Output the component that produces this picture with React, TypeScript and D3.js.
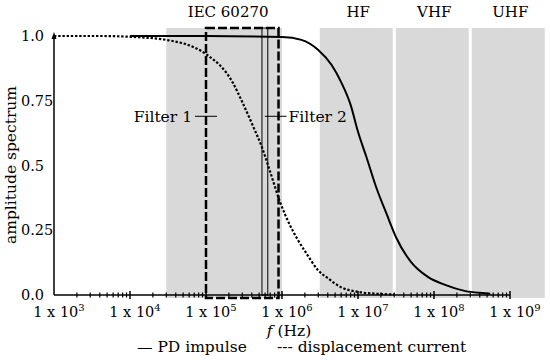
import React from 'react';
import * as d3 from 'd3';

// ---- data ----
const freqTicks = [1e3, 1e4, 1e5, 1e6, 1e7, 1e8, 1e9];
const tickExponents = ['3', '4', '5', '6', '7', '8', '9'];
const yTicks = [0, 0.25, 0.5, 0.75, 1.0];
const yTickLabels = ['0.0', '0.25', '0.5', '0.75', '1.0'];

// PD impulse spectrum (solid)
const pdFreq = [1e4, 1e5, 1e6, 1.8e6, 3e6, 4.5e6, 6e6, 8e6, 1e7, 1.3e7, 1.75e7, 2.4e7, 3.2e7, 5e7, 8.3e7, 1.4e8, 2.6e8, 4.7e8, 5.5e8];
const pdAmp = [1.0, 1.0, 0.996, 0.985, 0.946, 0.888, 0.822, 0.734, 0.63, 0.53, 0.413, 0.31, 0.22, 0.127, 0.07, 0.039, 0.015, 0.007, 0.005];

// displacement current spectrum (dotted)
const dispFreq = [1e3, 4e3, 1e4, 3e4, 1e5, 2.25e5, 3e5, 4.1e5, 5.5e5, 7e5, 9.4e5, 1.27e6, 1.6e6, 2.1e6, 3e6, 4e6, 6e6, 1e7, 2e7, 3e7];
const dispAmp = [1.0, 1.0, 0.997, 0.985, 0.93, 0.82, 0.745, 0.656, 0.567, 0.475, 0.36, 0.27, 0.215, 0.16, 0.095, 0.065, 0.03, 0.012, 0.004, 0.002];

const bandNames = ['HF', 'VHF', 'UHF'];
const bandStart = [3e6, 3e7, 3e8];
const bandEnd = [3e7, 3e8, 3e9];
const iecBand = [3e4, 1e6];
const iecLabel = 'IEC 60270';
const filter1 = [1e5, 9e5];
const filter2 = [5.45e5, 6.5e5];
const filterMarkerLevel = 0.69;

const FONT = '"DejaVu Serif", serif';
const FS = 15.5;

export default function App() {
  const W = 550, H = 360;
  const x = d3.scaleLog().domain([1e3, 1e9]).range([54, 510]);
  const y = d3.scaleLinear().domain([0, 1]).range([295, 36]);
  const bandTop = 28, bandBottom = 298;

  const line = d3.line<[number, number]>()
    .x(d => x(d[0]))
    .y(d => y(d[1]))
    .curve(d3.curveMonotoneX);

  const pdPath = line(pdFreq.map((f, i) => [f, pdAmp[i]] as [number, number])) || '';
  const dispPath = line(dispFreq.map((f, i) => [f, dispAmp[i]] as [number, number])) || '';

  const minor: number[] = [];
  for (let e = 3; e < 9; e++) {
    for (let k = 2; k <= 9; k++) minor.push(k * Math.pow(10, e));
  }

  const fy = y(filterMarkerLevel);
  const f1l = x(filter1[0]), f1r = x(filter1[1]);
  const f2l = x(filter2[0]), f2r = x(filter2[1]);

  return (
    <svg width={W} height={H} style={{ position: 'absolute', left: 0, top: 0, background: '#fff' }}
      fontFamily={FONT}>
      {/* gray bands */}
      <rect x={x(iecBand[0])} y={bandTop} width={x(iecBand[1]) - x(iecBand[0])} height={bandBottom - bandTop} fill="#d9d9d9" />
      {bandNames.map((n, i) => (
        <rect key={n} x={x(bandStart[i]) + 1.5} y={bandTop} width={x(bandEnd[i]) - x(bandStart[i]) - 3}
          height={bandBottom - bandTop} fill="#d9d9d9" />
      ))}

      {/* filter 2 thin box */}
      <rect x={f2l} y={bandTop} width={f2r - f2l} height={y(0) - bandTop} fill="none" stroke="#000" strokeWidth={1} />
      {/* filter 1 dashed box */}
      <rect x={f1l} y={bandTop} width={f1r - f1l} height={bandBottom - bandTop} fill="none" stroke="#000"
        strokeWidth={2.5} strokeDasharray="9,3" />

      {/* curves */}
      <path d={dispPath} fill="none" stroke="#000" strokeWidth={2.2} strokeDasharray="2.4,1.8" />
      <path d={pdPath} fill="none" stroke="#000" strokeWidth={2} />

      {/* filter markers */}
      <line x1={f1l - 11} x2={f1l + 11} y1={fy} y2={fy} stroke="#000" strokeWidth={1} />
      <line x1={(f2l + f2r) / 2} x2={f1r + 8} y1={fy} y2={fy} stroke="#000" strokeWidth={1} />
      <text x={f1l - 14} y={fy + 6} fontSize={FS} textAnchor="end">Filter 1</text>
      <text x={f1r + 10} y={fy + 6} fontSize={FS} textAnchor="start">Filter 2</text>

      {/* band labels */}
      <text x={(x(iecBand[0]) + x(iecBand[1])) / 2 + 4} y={17} fontSize={15} textAnchor="middle">{iecLabel}</text>
      {bandNames.map((n, i) => (
        <text key={n} x={(x(bandStart[i]) + x(bandEnd[i])) / 2 + 2} y={17} fontSize={15} textAnchor="middle">{n}</text>
      ))}

      {/* axes */}
      <line x1={x(1e3)} x2={x(1e3)} y1={y(0)} y2={y(1) - 1} stroke="#000" strokeWidth={1.5} />
      <path d={`M${x(1e3) - 2.5},${y(1) + 3} L${x(1e3)},${y(1) - 4} L${x(1e3) + 2.5},${y(1) + 3} Z`} fill="#000" />
      <line x1={x(1e3)} x2={x(1e9)} y1={y(0)} y2={y(0)} stroke="#000" strokeWidth={1.5} />
      {minor.map((f, i) => (
        <line key={'m' + i} x1={x(f)} x2={x(f)} y1={y(0) - 2.5} y2={y(0) + 2.5} stroke="#000" strokeWidth={1.2} />
      ))}
      {freqTicks.slice(1).map((f, i) => (
        <line key={'M' + i} x1={x(f)} x2={x(f)} y1={y(0) - 4} y2={y(0) + 4} stroke="#000" strokeWidth={1.5} />
      ))}
      {freqTicks.map((f, i) => (
        <text key={'t' + i} x={x(f) + 5} y={317} fontSize={14.5} textAnchor="middle">
          1 x 10<tspan fontSize={10} dy={-6}>{tickExponents[i]}</tspan>
        </text>
      ))}
      {yTicks.map((v, i) => (
        <text key={'y' + i} x={21} y={y(v) + 5} fontSize={14.5} textAnchor="start">{yTickLabels[i]}</text>
      ))}

      {/* axis titles */}
      <text x={289} y={336} fontSize={FS} textAnchor="middle"><tspan fontStyle="italic">f</tspan> (Hz)</text>
      <text transform="translate(16,165) rotate(-90)" fontSize={FS} textAnchor="middle">amplitude spectrum</text>

      {/* legend */}
      <text x={137} y={352} fontSize={FS}>— PD impulse</text>
      <text x={277} y={352} fontSize={FS}>--- displacement current</text>
    </svg>
  );
}
